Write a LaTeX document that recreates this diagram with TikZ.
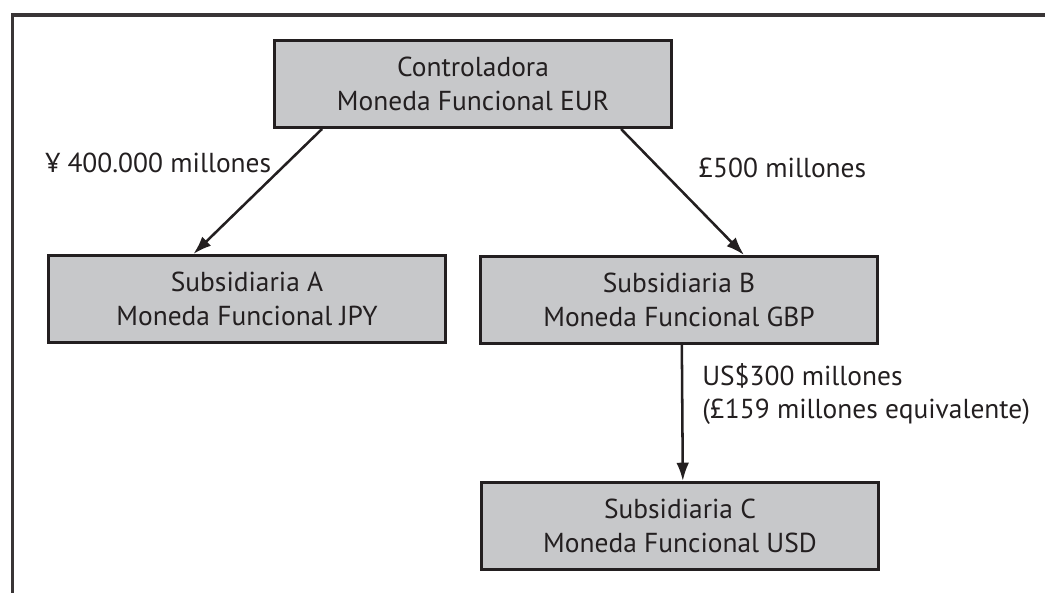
\documentclass[tikz,border=0pt]{standalone}
\usepackage{fontspec}
\setmainfont{PT Sans}
\usetikzlibrary{positioning,arrows.meta}
\definecolor{boxgray}{HTML}{C7C8CA}
\definecolor{ink}{HTML}{231F20}

\begin{document}
\begin{tikzpicture}[x=0.025cm,y=-0.025cm,align=center,font=\fontsize{19.5}{23.7}\selectfont,text=ink,
    entity/.style={rectangle,draw=ink,fill=boxgray,line width=2.1pt,minimum width=9.925cm,minimum height=2.175cm,inner sep=0pt,below right},
    flow/.style={draw=ink,line width=1.8pt,-{Latex[length=13pt,width=9pt]}},
    amount/.style={inner sep=0pt,anchor=west,align=left}]
    \useasboundingbox (0,0) rectangle (1045,592);

    % frame
      \draw[ink!90,line width=2.2pt] (12.5,600) -- (12.5,15) -- (1050,15);

    % main modules
      \node[entity] (ctrl) at (273,39) {Controladora\\Moneda Funcional EUR};
      \node[entity] (subA) at (47,254) {Subsidiaria A\\Moneda Funcional JPY};
      \node[entity] (subB) at (479,255) {Subsidiaria B\\Moneda Funcional GBP};
      \node[entity] (subC) at (480,481) {Subsidiaria C\\Moneda Funcional USD};

      % connections
      \draw[flow] ([xshift=1.225cm]ctrl.south west) -- ([xshift=-1.34cm]subA.north);
      \draw[flow] ([xshift=-1.3cm]ctrl.south east) -- ([xshift=1.625cm]subB.north);
      \draw[flow] ([xshift=0.07cm]subB.south) -- ([xshift=0.07cm]subC.north);

      % amounts
      \node[amount] (amtA) at (45,163) {¥ 400.000 millones};
      \node[amount] (amtB) at (698,168) {£500 millones};
      \node[amount] (amtC) at (702,394) {US\$300 millones\\(£159 millones equivalente)};

\end{tikzpicture}
\end{document}
